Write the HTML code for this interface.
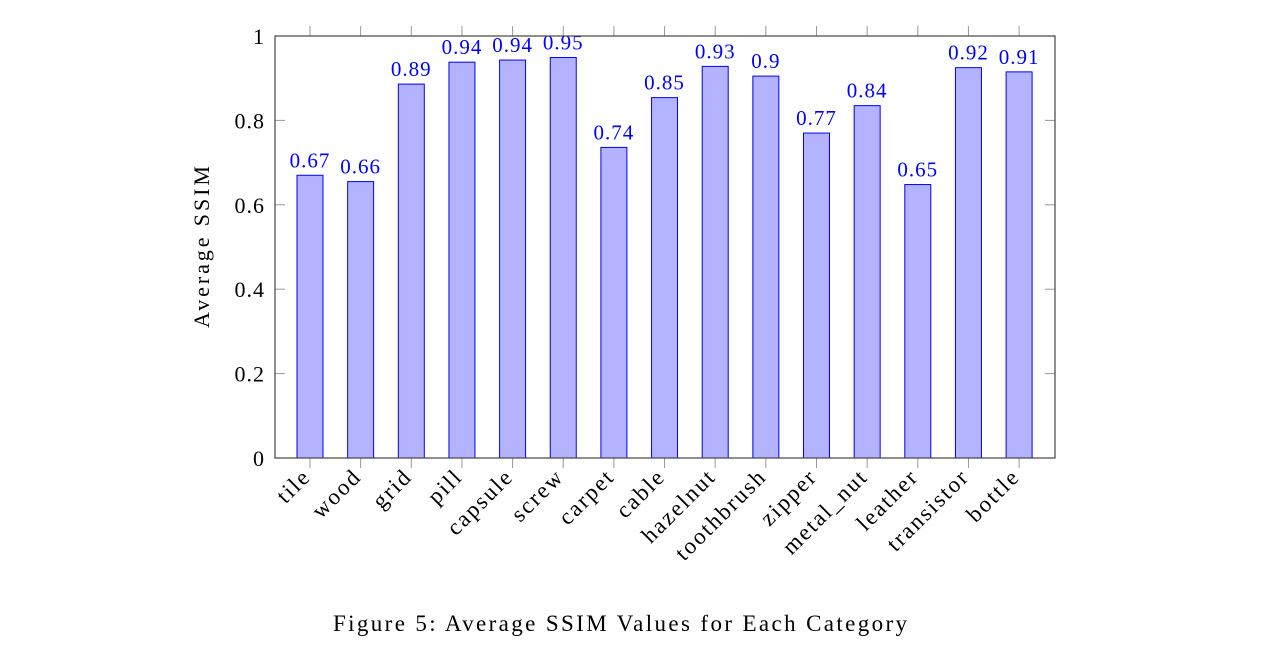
<!DOCTYPE html>
<html><head><meta charset="utf-8"><style>
body{margin:0;background:#fff;}
svg text{font-family:"Liberation Serif",serif;}
</style></head><body>
<svg id="c" width="1284" height="655" xmlns="http://www.w3.org/2000/svg"></svg>
<script>
const categories=["tile","wood","grid","pill","capsule","screw","carpet","cable","hazelnut","toothbrush","zipper","metal_nut","leather","transistor","bottle"];
const values=[0.67,0.655,0.886,0.938,0.943,0.949,0.736,0.854,0.928,0.905,0.77,0.835,0.648,0.925,0.915];
const valueLabels=["0.67","0.66","0.89","0.94","0.94","0.95","0.74","0.85","0.93","0.9","0.77","0.84","0.65","0.92","0.91"];
const yTicks=[0,0.2,0.4,0.6,0.8,1];
const yTickLabels=["0","0.2","0.4","0.6","0.8","1"];
const svg=document.getElementById('c');
const NS='http://www.w3.org/2000/svg';
const L=275,R=1055,T=36,B=458;
const y=v=>B-(B-T)*v;
const x=i=>310+i*50.65;
function mk(t,a,p){const e=document.createElementNS(NS,t);for(const k in a)e.setAttribute(k,a[k]);(p||svg).appendChild(e);return e;}
const gy=mk('g',{});


yTicks.forEach((v,i)=>{
  mk('line',{x1:L,x2:L+10,y1:y(v),y2:y(v),stroke:'#999','stroke-width':1},gy);
  mk('line',{x1:R-10,x2:R,y1:y(v),y2:y(v),stroke:'#999','stroke-width':1},gy);
  const t=mk('text',{x:L-10,y:y(v)+8,'text-anchor':'end','font-size':22,'letter-spacing':1,fill:'#000'},gy);
  t.textContent=yTickLabels[i];
  
  
});
const gx=mk('g',{});


categories.forEach((c,i)=>{
  const cx=x(i);
  mk('line',{x1:cx,x2:cx,y1:B,y2:B+10,stroke:'#999'},gx);
  mk('line',{x1:cx,x2:cx,y1:T-10,y2:T,stroke:'#999'},gx);
  const bar=mk('rect',{x:cx-13,y:y(values[i]),width:26,height:B-y(values[i]),fill:'#b3b3ff',stroke:'#0000ff','stroke-width':1});
  
  
  const vl=mk('text',{x:cx,y:y(values[i])-8,'text-anchor':'middle','font-size':21,'letter-spacing':1,fill:'#0000ff'});
  vl.textContent=valueLabels[i];
  
  
  const tl=mk('text',{x:0,y:0,'text-anchor':'end','font-size':23,'letter-spacing':2,fill:'#000',transform:`translate(${cx+2},${B+20}) rotate(-45)`},gx);
  tl.textContent=c;
  
  
});
const fr=mk('rect',{x:L,y:T,width:R-L,height:B-T,fill:'none',stroke:'#444','stroke-width':1.2});


const yt=mk('text',{x:0,y:0,'text-anchor':'middle','font-size':22,textLength:162,lengthAdjust:'spacing',fill:'#000',transform:'translate(209,247) rotate(-90)'});
yt.textContent='Average SSIM';


const cap=mk('text',{x:620,y:631,'text-anchor':'middle','font-size':23,textLength:574,lengthAdjust:'spacing',fill:'#000'});
cap.textContent='Figure 5: Average SSIM Values for Each Category';


</script>
</body></html>
